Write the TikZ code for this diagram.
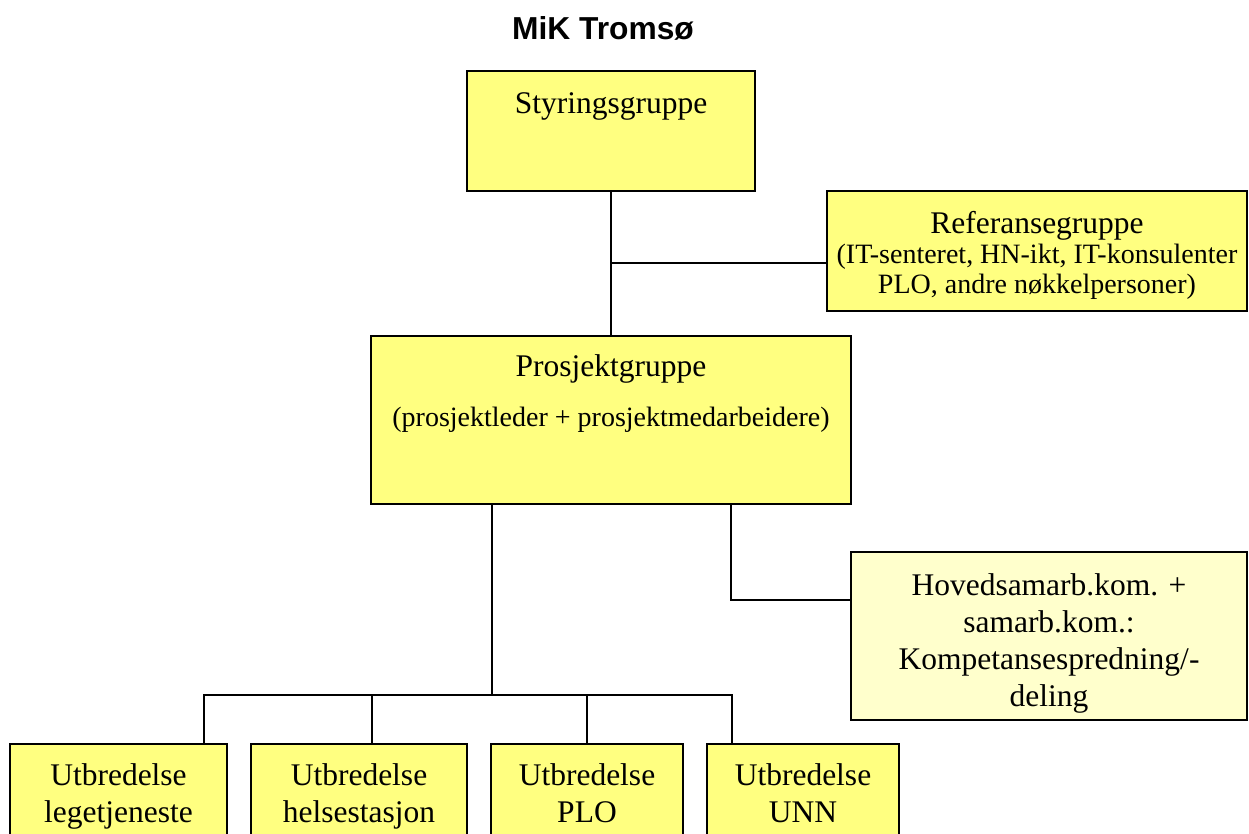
\documentclass[tikz,border=0pt]{standalone}
\usepackage{fontspec}
\setmainfont{Liberation Serif}
\newfontfamily\headfont{Liberation Sans}
\definecolor{orgyellow}{RGB}{255,255,128}
\definecolor{orgpale}{RGB}{255,255,204}
\begin{document}
\begin{tikzpicture}[x=0.4pt,y=-0.4pt,
  every node/.style={font=\fontsize{12.6}{14.8}\selectfont},
  orgbox/.style={draw,rectangle,line width=0.9pt,fill=orgyellow,inner sep=0pt,align=center},
  link/.style={line width=0.8pt}]
\clip (0,0) rectangle (1249,834);
\node[font=\headfont\bfseries\fontsize{12.7}{15}\selectfont,anchor=base] (title) at (603,39) {MiK Tromsø};

\node[orgbox,anchor=north,minimum width=115.2pt,text height=16.8pt,text depth=31.2pt] (styring) at (611,70) {Styringsgruppe};
\node[orgbox,anchor=north,minimum width=168pt,text height=40.8pt,text depth=7.2pt,font=\fontsize{11.2}{12}\selectfont] (referanse) at (1037,190) {{\fontsize{12.6}{12.4}\selectfont Referansegruppe}\\(IT-senteret, HN-ikt, IT-konsulenter\\PLO, andre nøkkelpersoner)};
\node[orgbox,anchor=north,minimum width=192pt,text height=36pt,text depth=31.2pt] (prosjekt) at (611,335) {Prosjektgruppe\\[5.2pt]{\fontsize{11.2}{13}\selectfont (prosjektleder + prosjektmedarbeidere)}};
\node[orgbox,anchor=north,fill=orgpale,minimum width=158.4pt,text height=61.6pt,text depth=5.6pt] (hovedsamarb) at (1049,551) {Hovedsamarb.kom. +\\samarb.kom.:\\Kompetansespredning/-\\deling};

% bottom row
\node[orgbox,anchor=north,minimum width=86.8pt,text height=31.2pt,text depth=12pt] (lege) at (118.5,743) {Utbredelse\\legetjeneste};
\node[orgbox,anchor=north,minimum width=86.4pt,text height=31.2pt,text depth=12pt] (helse) at (359,743) {Utbredelse\\helsestasjon};
\node[orgbox,anchor=north,minimum width=76.8pt,text height=31.2pt,text depth=12pt] (plo) at (587,743) {Utbredelse\\PLO};
\node[orgbox,anchor=north,minimum width=76.8pt,text height=31.2pt,text depth=12pt] (unn) at (803,743) {Utbredelse\\UNN};

\coordinate (refjoin) at (611,263);
\coordinate (hovjoin) at (731,600);
\coordinate (bus) at (492,695);

\draw[link] (styring) -- (prosjekt);
\draw[link] (refjoin) -- (refjoin -| referanse.west);
\draw[link] (prosjekt.south -| hovjoin) -- (hovjoin) -- (hovjoin -| hovedsamarb.west);
\draw[link] (prosjekt.south -| bus) -- (bus);
\draw[link] (lege.north -| 204,0) -- (204,695) -- (732,695) -- (unn.north -| 732,0);
\foreach \x/\nd in {372/helse,587/plo}
  \draw[link] (\x,695) -- (\x,695 |- \nd.north);
\end{tikzpicture}
\end{document}
